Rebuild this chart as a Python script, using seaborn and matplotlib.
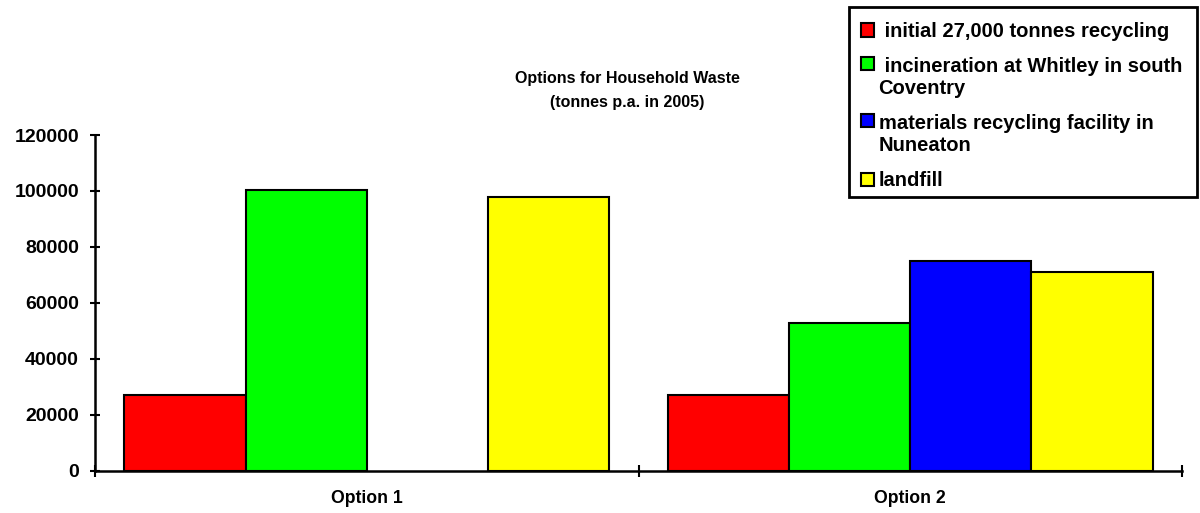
import pandas as pd
import matplotlib.pyplot as plt
import seaborn as sns
import numpy as np
from matplotlib.patches import Rectangle
from matplotlib.legend_handler import HandlerPatch

# Data
options = ["Option 1", "Option 2"]
series = [
    " initial 27,000 tonnes recycling",
    " incineration at Whitley in south\nCoventry",
    "materials recycling facility in\nNuneaton",
    "landfill",
]
option1 = [27000, 100500, np.nan, 98000]
option2 = [27000, 52700, 75000, 71000]
colors = ["#FF0000", "#00FF00", "#0000FF", "#FFFF00"]

rows = []
for opt, vals in zip(options, [option1, option2]):
    for s, v in zip(series, vals):
        rows.append({"option": opt, "series": s, "tonnes": v})
df = pd.DataFrame(rows)

sns.set_style("ticks")
plt.rcParams["font.family"] = ["Liberation Sans", "DejaVu Sans"]
plt.rcParams["font.weight"] = "bold"
plt.rcParams["text.color"] = "black"
plt.rcParams["xtick.color"] = "black"
plt.rcParams["ytick.color"] = "black"


# square legend key that sits on the first line of a wrapped label
class TopSquare(HandlerPatch):
    def __init__(self, shift=0, **kw):
        super().__init__(**kw)
        self.shift = shift

    def create_artists(self, legend, orig_handle, xdescent, ydescent,
                       width, height, fontsize, trans):
        p = Rectangle((-xdescent, -ydescent + self.shift), width, height)
        self.update_prop(p, orig_handle, legend)
        p.set_transform(trans)
        return [p]


fig = plt.figure(figsize=(12, 5.13), dpi=100)
ax = fig.add_axes([95 / 1200, 1 - 470.7 / 513, (1182 - 95) / 1200, (470.7 - 135) / 513])

sns.barplot(
    data=df, x="option", y="tonnes", hue="series",
    hue_order=series, palette=colors, width=0.892, gap=0,
    edgecolor="black", linewidth=1.5, saturation=1, ax=ax, legend=False,
)

ax.set_ylim(0, 120000)
ax.set_xlim(-0.5, 1.5)
ax.set_yticks(np.arange(0, 120001, 20000))
ax.tick_params(axis="y", left=True, direction="inout", length=7, width=1.5, labelsize=14, pad=8)
ax.set_xticks([0, 1])
ax.set_xticklabels(options, fontsize=12.7, fontweight="bold")
ax.tick_params(axis="x", which="major", length=0, pad=14)
ax.set_xticks([-0.5, 0.5, 1.5], minor=True)
ax.tick_params(axis="x", which="minor", bottom=True, direction="inout", length=9, width=1.5)
for lab in ax.get_yticklabels():
    lab.set_fontweight("bold")
ax.set_xlabel("")
ax.set_ylabel("")
sns.despine(ax=ax)
for sp in ["left", "bottom"]:
    ax.spines[sp].set_linewidth(1.8)
    ax.spines[sp].set_color("black")

fig.text(0.523, 1 - 78 / 513, "Options for Household Waste", ha="center", va="center",
         fontsize=11.5, fontweight="bold")
fig.text(0.523, 1 - 102 / 513, "(tonnes p.a. in 2005)", ha="center", va="center",
         fontsize=11.5, fontweight="bold")

fs = 14.5
handles = [Rectangle((0, 0), 1, 1, facecolor=c, edgecolor="black", linewidth=1.5) for c in colors]
hmap = {h: TopSquare(shift=(fs * 1.2 * 0.6 if "\n" in s else 0)) for h, s in zip(handles, series)}
leg = fig.legend(
    handles, series, loc="upper right", bbox_to_anchor=(1197 / 1200, 1 - 7 / 513),
    frameon=False, fontsize=fs,
    handlelength=0.65, handleheight=0.65, handletextpad=0.2, labelspacing=0.8,
    borderpad=0.75, borderaxespad=0, handler_map=hmap,
)
for t in leg.get_texts():
    t.set_fontweight("bold")

# legend border drawn separately so it hugs the entries like the original
fig.patches.append(Rectangle((849 / 1200, 1 - 197 / 513), (1197 - 849) / 1200, 190 / 513,
                             transform=fig.transFigure, facecolor="none",
                             edgecolor="black", linewidth=2, zorder=5))

fig.savefig("out.png", dpi=100)
